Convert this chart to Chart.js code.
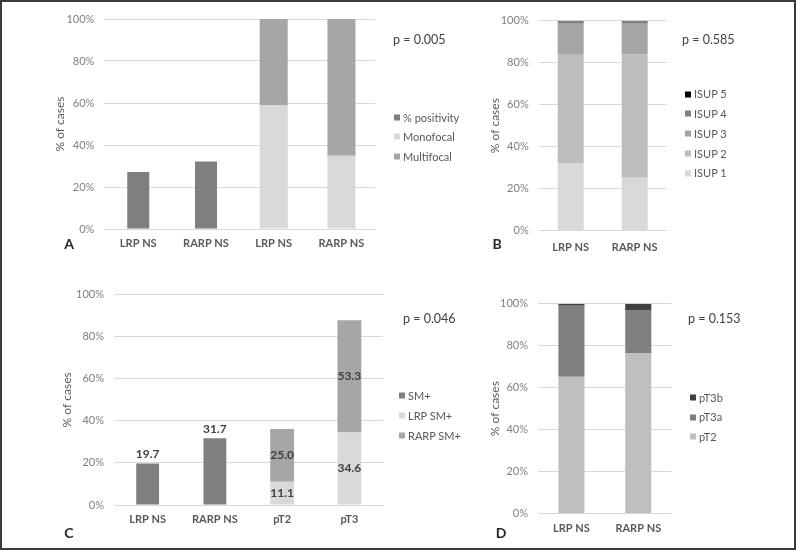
<!DOCTYPE html>
<html><head><meta charset="utf-8">
<script src="https://cdn.jsdelivr.net/npm/chart.js@4.4.0/dist/chart.umd.min.js"></script>
<style>
html,body{margin:0;padding:0;background:#fff;}
#wrap{position:relative;width:796px;height:550px;overflow:hidden;font-family:Lato,"Open Sans",sans-serif;background:#fff;}
canvas{position:absolute;}
#frame{position:absolute;left:0;top:0;width:796px;height:550px;box-sizing:border-box;border:2px solid #3a3a3a;pointer-events:none;}
.ptext{position:absolute;white-space:nowrap;font-size:12.5px;color:#404040;transform:translateY(-50%);line-height:1;}
.letter{position:absolute;font-weight:bold;font-size:14px;color:#262626;transform:translate(-50%,-50%);line-height:1;}
.leg{position:absolute;font-size:11px;color:#595959;white-space:nowrap;transform:translateY(-50%);line-height:1;}
.leg i{display:inline-block;width:6px;height:6px;margin-right:3px;vertical-align:middle;position:relative;top:-1px;}
</style></head><body>
<div id="wrap">
<canvas id="cA"></canvas><canvas id="cB"></canvas><canvas id="cC"></canvas><canvas id="cD"></canvas>
<div id="frame"></div>
</div>
<script>
// ---- data ----
const yTicks = [0, 20, 40, 60, 80, 100];
const catsA = ["LRP NS", "RARP NS", "LRP NS", "RARP NS"];
const positivityA = [27.1, 32.2, null, null];
const monofocalA = [null, null, 59.0, 34.9];
const multifocalA = [null, null, 41.0, 65.1];
const pA = "p = 0.005";

const catsB = ["LRP NS", "RARP NS"];
const isup1B = [32.2, 25.2];
const isup2B = [51.9, 58.8];
const isup3B = [14.5, 14.6];
const isup4B = [1.4, 1.4];
const isup5B = [0, 0];
const pB = "p = 0.585";

const catsC = ["LRP NS", "RARP NS", "pT2", "pT3"];
const smC = [19.7, 31.7, null, null];
const lrpSmC = [null, null, 11.1, 34.6];
const rarpSmC = [null, null, 25.0, 53.3];
const pC = "p = 0.046";

const catsD = ["LRP NS", "RARP NS"];
const pT2D = [65.2, 76.5];
const pT3aD = [33.8, 20.5];
const pT3bD = [1.0, 3.0];
const pD = "p = 0.153";

const FONT = "Lato, 'Open Sans', sans-serif";

const valueLabels = {
  id: 'valueLabels',
  afterDatasetsDraw(chart) {
    const ctx = chart.ctx; ctx.save();
    ctx.font = "bold 12px Lato, 'Open Sans', sans-serif";
    ctx.fillStyle = '#404040'; ctx.textAlign = 'center'; ctx.textBaseline = 'middle';
    chart.data.datasets.forEach((ds, i) => {
      const meta = chart.getDatasetMeta(i);
      meta.data.forEach((el, j) => {
        const v = ds.data[j]; if (v == null) return;
        const y = ds.labelPos === 'top' ? el.y - 9 : (el.y + el.base) / 2;
        ctx.fillText(v.toFixed(1), el.x, y);
      });
    });
    ctx.restore();
  }
};

const wrap = document.getElementById('wrap');
function addDiv(cls, html, x, y) {
  const d = document.createElement('div'); d.className = cls; d.innerHTML = html;
  d.style.left = x + 'px'; d.style.top = y + 'px'; wrap.appendChild(d); return d;
}

function makePanel(id, box, plot, cats, datasets, o) {
  const cv = document.getElementById(id);
  cv.width = box.w; cv.height = box.h;
  cv.style.left = box.x + 'px'; cv.style.top = box.y + 'px';
  const yW = plot.left - box.x, padR = box.x + box.w - plot.right;
  const padT = plot.top - box.y, xH = box.y + box.h - plot.bottom;
  new Chart(cv, {
    type: 'bar',
    data: { labels: cats, datasets: datasets },
    options: {
      responsive: false, animation: false, devicePixelRatio: 1,
      layout: { padding: { left: 0, right: padR, top: padT, bottom: 0 } },
      plugins: { legend: { display: false }, tooltip: { enabled: false } },
      scales: {
        x: { stacked: true, offset: true,
          grid: { display: false, drawTicks: false }, border: { display: false },
          ticks: { color: '#595959', font: { family: FONT, size: 11, weight: 'bold' }, padding: o.xPad, maxRotation: 0, autoSkip: false },
          afterFit: s => { s.height = xH; } },
        y: { stacked: true, min: 0, max: 100,
          grid: { color: '#d9d9d9', drawTicks: false, lineWidth: 1 }, border: { display: false },
          afterBuildTicks: s => { s.ticks = yTicks.map(v => ({ value: v })); },
          ticks: { color: '#808080', font: { family: FONT, size: 11 }, padding: 10, callback: v => v + '%' },
          title: { display: true, text: '% of cases', color: '#595959', font: { family: FONT, size: 12 }, padding: { top: o.titleX - box.x - 7.2, bottom: 0 } },
          afterFit: s => { s.width = yW; } }
      }
    },
    plugins: o.plugins || []
  });
  // p value, letter, legend
  addDiv('ptext', o.p, o.pPos[0], o.pPos[1]);
  addDiv('letter', o.letter, o.letterPos[0], o.letterPos[1]);
  o.legendOrder.forEach((di, k) => {
    const ds = datasets[di];
    addDiv('leg', '<i style="background:' + ds.backgroundColor + '"></i>' + ds.label, o.legPos[0], o.legPos[1] + k * o.legPos[2]);
  });
}

makePanel('cA', { x: 0, y: 0, w: 398, h: 270 }, { left: 104.4, right: 375.3, top: 19, bottom: 229 }, catsA, [
  { label: '% positivity', data: positivityA, backgroundColor: '#7f7f7f', categoryPercentage: 1, barPercentage: 0.325 },
  { label: 'Monofocal', data: monofocalA, backgroundColor: '#d9d9d9', categoryPercentage: 1, barPercentage: 0.414 },
  { label: 'Multifocal', data: multifocalA, backgroundColor: '#a6a6a6', categoryPercentage: 1, barPercentage: 0.414 }
], { xPad: 8, titleX: 60, p: pA, pPos: [393, 40], letter: 'A', letterPos: [69, 244], legendOrder: [0, 1, 2], legPos: [394, 116.7, 19.5] });

makePanel('cB', { x: 398, y: 0, w: 398, h: 270 }, { left: 538.7, right: 666.7, top: 20.7, bottom: 230.7 }, catsB, [
  { label: 'ISUP 1', data: isup1B, backgroundColor: '#d9d9d9', categoryPercentage: 1, barPercentage: 0.406 },
  { label: 'ISUP 2', data: isup2B, backgroundColor: '#bdbdbd', categoryPercentage: 1, barPercentage: 0.406 },
  { label: 'ISUP 3', data: isup3B, backgroundColor: '#a5a5a5', categoryPercentage: 1, barPercentage: 0.406 },
  { label: 'ISUP 4', data: isup4B, backgroundColor: '#7f7f7f', categoryPercentage: 1, barPercentage: 0.406 },
  { label: 'ISUP 5', data: isup5B, backgroundColor: '#000000', categoryPercentage: 1, barPercentage: 0.406 }
], { xPad: 10, titleX: 495, p: pB, pPos: [682, 40], letter: 'B', letterPos: [497, 244], legendOrder: [4, 3, 2, 1, 0], legPos: [685, 93.3, 19.75] });

makePanel('cC', { x: 0, y: 270, w: 398, h: 280 }, { left: 114, right: 383, top: 294.7, bottom: 505 }, catsC, [
  { label: 'SM+', data: smC, backgroundColor: '#7f7f7f', categoryPercentage: 1, barPercentage: 0.34, labelPos: 'top' },
  { label: 'LRP SM+', data: lrpSmC, backgroundColor: '#d9d9d9', categoryPercentage: 1, barPercentage: 0.355 },
  { label: 'RARP SM+', data: rarpSmC, backgroundColor: '#a6a6a6', categoryPercentage: 1, barPercentage: 0.355 }
], { xPad: 8, titleX: 67, p: pC, pPos: [403, 318.7], letter: 'C', letterPos: [69, 533], legendOrder: [0, 1, 2], legPos: [399, 395, 19.85], plugins: [valueLabels] });

makePanel('cD', { x: 398, y: 270, w: 398, h: 280 }, { left: 538, right: 671.7, top: 303.7, bottom: 513.7 }, catsD, [
  { label: 'pT2', data: pT2D, backgroundColor: '#bfbfbf', categoryPercentage: 1, barPercentage: 0.39 },
  { label: 'pT3a', data: pT3aD, backgroundColor: '#7f7f7f', categoryPercentage: 1, barPercentage: 0.39 },
  { label: 'pT3b', data: pT3bD, backgroundColor: '#404040', categoryPercentage: 1, barPercentage: 0.39 }
], { xPad: 8, titleX: 495, p: pD, pPos: [688, 318.7], letter: 'D', letterPos: [501, 533], legendOrder: [2, 1, 0], legPos: [690, 397, 19.4] });
</script>
</body></html>
